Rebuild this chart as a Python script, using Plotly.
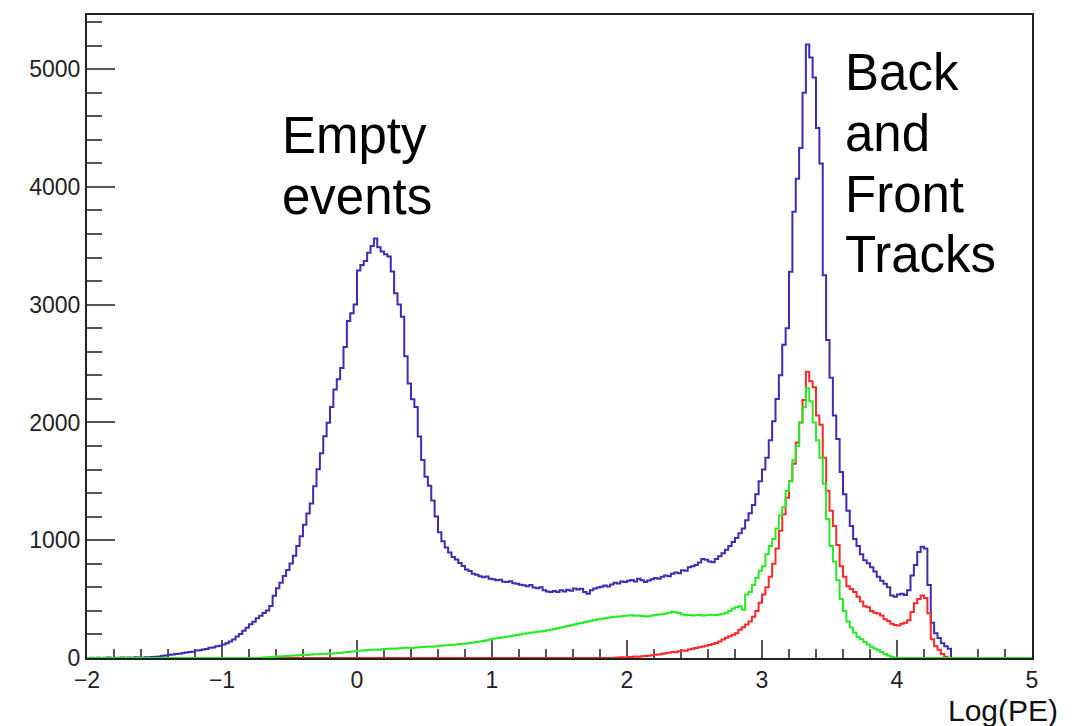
import numpy as np
import plotly.graph_objects as go

# ---------------- data (histogram bin contents, bin width 0.025 in Log(PE)) ----------------
BIN_START = -2.0
BIN_END = 5.0
BIN_WIDTH = 0.025

# blue: all events, bins starting at -2.0
BLUE_START = -2.0
BLUE = (
    [0, 2, 0, 3, 0, 2, 4, 0, 3, 2, 5, 3, 4, 2, 6, 5, 3, 7, 6, 8]
    + [10, 13, 19, 21, 28, 29, 35, 37, 43, 46, 52, 54, 63, 65, 73, 76, 86, 89, 99, 103]
    + [115, 126, 141, 158, 182, 204, 232, 256, 287, 308, 337, 358, 382, 404, 441, 528, 592, 638, 697, 748]
    + [802, 868, 952, 1033, 1132, 1228, 1312, 1458, 1602, 1738, 1882, 1998, 2132, 2281, 2368, 2462, 2640, 2862, 2928, 3002]
    + [3290, 3338, 3372, 3442, 3498, 3562, 3488, 3452, 3428, 3410, 3282, 3098, 3002, 2898, 2562, 2330, 2198, 2132, 1880, 1682]
    + [1540, 1462, 1338, 1202, 1068, 992, 938, 896, 858, 836, 806, 782, 752, 738, 716, 706, 694, 686, 692, 672]
    + [668, 660, 665, 648, 645, 652, 635, 630, 622, 618, 610, 620, 598, 592, 600, 575, 565, 560, 568, 560]
    + [575, 565, 580, 572, 590, 582, 588, 560, 545, 575, 590, 598, 605, 615, 608, 625, 640, 632, 650, 645]
    + [655, 662, 650, 672, 660, 645, 658, 668, 680, 672, 690, 700, 695, 715, 725, 720, 745, 740, 770, 780]
    + [790, 810, 840, 835, 820, 812, 840, 865, 890, 920, 950, 985, 1020, 1060, 1100, 1170, 1230, 1300, 1390, 1500]
    + [1600, 1700, 1850, 2010, 2200, 2400, 2660, 2800, 3280, 3790, 4070, 4330, 4800, 5210, 5100, 4930, 4500, 4200, 3250, 2700]
    + [2380, 2060, 1860, 1580, 1390, 1250, 1120, 1010, 950, 880, 830, 805, 770, 735, 690, 655, 630, 600, 530, 520]
    + [540, 545, 535, 575, 700, 790, 900, 945, 930, 620, 300, 210, 170, 125, 100, 78]
)

# red: bins starting at 1.9
RED_START = 1.9
RED = (
    [3, 4, 6, 5]
    + [8, 9, 12, 11, 15, 18, 20, 24, 28, 30, 36, 40, 45, 50, 48, 58, 64, 62, 72, 78]
    + [85, 92, 98, 105, 110, 118, 128, 140, 158, 172, 185, 198, 210, 240, 262, 285, 310, 350, 400, 470]
    + [540, 600, 690, 800, 930, 1080, 1220, 1360, 1500, 1650, 1830, 2000, 2190, 2430, 2350, 2300, 2060, 1980, 1700, 1420]
    + [1250, 1120, 960, 780, 690, 610, 585, 560, 520, 480, 440, 430, 400, 385, 378, 360, 330, 315, 290, 280]
    + [276, 290, 300, 320, 390, 465, 500, 530, 510, 380, 160, 100, 70, 35, 10, 0]
)

# green: bins starting at -0.7
GREEN_START = -0.7
GREEN = (
    [4, 6, 8, 10, 12, 15, 14, 18]
    + [20, 22, 21, 25, 27, 26, 30, 32, 31, 35, 34, 38, 36, 40, 42, 45, 48, 52, 55, 58]
    + [62, 64, 66, 68, 70, 72, 70, 74, 76, 78, 80, 79, 82, 84, 86, 88, 85, 90, 92, 94]
    + [95, 98, 96, 100, 104, 106, 108, 110, 112, 115, 118, 120, 124, 128, 132, 135, 140, 145, 150, 158]
    + [163, 168, 172, 176, 180, 185, 190, 195, 200, 205, 210, 215, 218, 222, 226, 230, 235, 240, 246, 252]
    + [258, 265, 272, 278, 285, 292, 298, 304, 310, 316, 322, 328, 333, 338, 342, 346, 350, 352, 355, 358]
    + [360, 362, 358, 361, 356, 352, 355, 360, 365, 370, 372, 378, 385, 392, 388, 382, 370, 362, 365, 360]
    + [362, 366, 360, 364, 368, 362, 366, 370, 375, 385, 400, 420, 432, 440, 410, 540, 560, 620, 680, 740]
    + [780, 880, 950, 1010, 1100, 1210, 1280, 1420, 1500, 1680, 1800, 2000, 2130, 2290, 2180, 2000, 1850, 1700, 1480, 1180]
    + [950, 820, 660, 500, 400, 310, 260, 215, 180, 160, 135, 115, 95, 80, 65, 50, 35, 22, 10, 3]
)

X_TICKS = [-2, -1, 0, 1, 2, 3, 4, 5]
Y_TICKS = [0, 1000, 2000, 3000, 4000, 5000]
X_TITLE = "Log(PE)"
LABEL_LEFT_LINES = ["Empty", "events"]
LABEL_RIGHT_LINES = ["Back", "and", "Front", "Tracks"]

# ---------------- build full-range histograms ----------------
N_BINS = int(round((BIN_END - BIN_START) / BIN_WIDTH))
EDGES = BIN_START + BIN_WIDTH * np.arange(N_BINS + 1)


def full_hist(values, start):
    n_before = int(round((start - BIN_START) / BIN_WIDTH))
    n_after = N_BINS - n_before - len(values)
    return [0] * n_before + list(values) + [0] * n_after


def step_trace(values, start, color):
    h = full_hist(values, start)
    return go.Scatter(
        x=EDGES,
        y=h + [h[-1]],
        mode="lines",
        line=dict(color=color, width=2, shape="hv"),
        hoverinfo="skip",
        showlegend=False,
    )


fig = go.Figure()
fig.add_trace(step_trace(BLUE, BLUE_START, "rgb(58,46,180)"))
fig.add_trace(step_trace(RED, RED_START, "rgb(255,40,40)"))
fig.add_trace(step_trace(GREEN, GREEN_START, "rgb(40,235,40)"))

FONT = "Liberation Sans, Arial, Helvetica, sans-serif"

fig.update_layout(
    width=1081,
    height=726,
    margin=dict(l=87, r=49, t=15, b=68),
    paper_bgcolor="white",
    plot_bgcolor="white",
    font=dict(family=FONT, color="#111"),
    showlegend=False,
)

fig.update_xaxes(
    range=[BIN_START, BIN_END],
    tickvals=X_TICKS,
    ticks="inside",
    ticklen=18,
    tickwidth=2,
    tickcolor="#555",
    minor=dict(ticks="inside", ticklen=9, tickwidth=2, tickcolor="#555", dtick=0.2, tick0=-2, showgrid=False),
    showline=True,
    linecolor="#222",
    linewidth=2,
    mirror=True,
    showgrid=False,
    zeroline=False,
    tickfont=dict(family=FONT, size=23, color="#222"),
    layer="below traces",
)
fig.update_yaxes(
    range=[0, 5460],
    tickvals=Y_TICKS,
    ticks="inside",
    ticklen=28,
    tickwidth=2,
    tickcolor="#555",
    minor=dict(ticks="inside", ticklen=15, tickwidth=2, tickcolor="#555", dtick=200, tick0=0, showgrid=False),
    showline=True,
    linecolor="#222",
    linewidth=2,
    mirror=True,
    showgrid=False,
    zeroline=False,
    tickfont=dict(family=FONT, size=23, color="#222"),
    layer="below traces",
)

PLOT_TOP, PLOT_BOTTOM = 15, 658


def paper_y(px):
    return (PLOT_BOTTOM - px) / (PLOT_BOTTOM - PLOT_TOP)


fig.add_annotation(
    text=X_TITLE, xref="paper", yref="paper", x=1.0296, y=paper_y(710),
    xanchor="right", yanchor="middle", showarrow=False,
    font=dict(family=FONT, size=30, color="#111"),
)

LEFT_LINE_Y = [135, 196]
for txt, py in zip(LABEL_LEFT_LINES, LEFT_LINE_Y):
    fig.add_annotation(
        text=txt, xref="paper", yref="paper", x=0.204, y=paper_y(py),
        xanchor="left", yanchor="middle", align="left", showarrow=False,
        font=dict(family=FONT, size=51, color="black"),
    )

RIGHT_LINE_Y = [72, 133, 194, 255]
for txt, py in zip(LABEL_RIGHT_LINES, RIGHT_LINE_Y):
    fig.add_annotation(
        text=txt, xref="paper", yref="paper", x=0.80, y=paper_y(py),
        xanchor="left", yanchor="middle", align="left", showarrow=False,
        font=dict(family=FONT, size=51, color="black"),
    )

fig.write_html("out.html")
